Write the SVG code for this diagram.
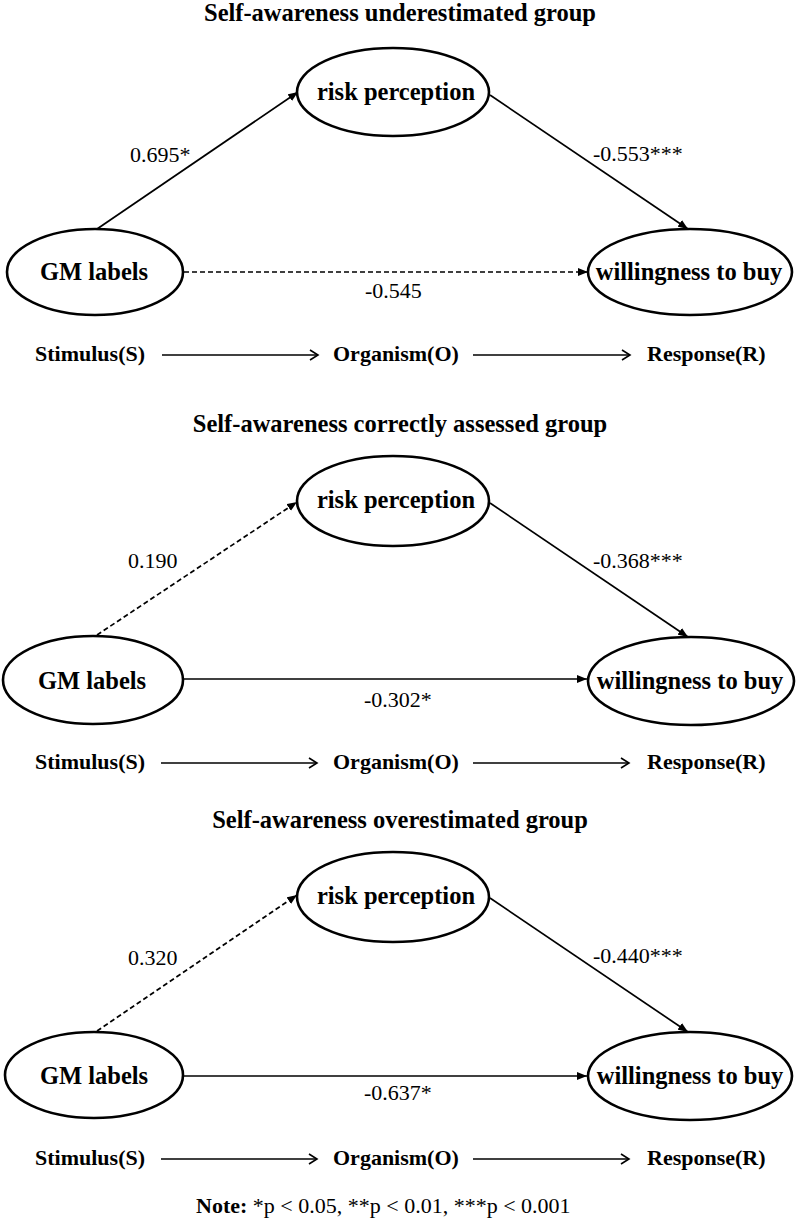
<svg xmlns="http://www.w3.org/2000/svg" width="800" height="1227" viewBox="0 0 800 1227">
<style>
.bg{fill:#fff}
.node{fill:#fff;stroke:#000;stroke-width:2.6}
.lbl{font-family:"Liberation Serif","Times New Roman",serif;font-weight:bold;font-size:24.5px;fill:#000;text-anchor:middle}
.title{font-family:"Liberation Serif","Times New Roman",serif;font-weight:bold;font-size:24.5px;fill:#000;text-anchor:middle}
.coef{font-family:"Liberation Serif","Times New Roman",serif;font-size:22px;fill:#000}
.sor{font-family:"Liberation Serif","Times New Roman",serif;font-weight:bold;font-size:22px;fill:#000}
.note{font-family:"Liberation Serif","Times New Roman",serif;font-size:22px;fill:#000}
.edge{stroke:#000;stroke-width:1.7;fill:none;marker-end:url(#ah)}
.dash{stroke-dasharray:5 3}
.flow{stroke:#000;stroke-width:1.7;fill:none;marker-end:url(#oa)}
</style>
<defs>
<marker id="ah" markerUnits="userSpaceOnUse" markerWidth="11" markerHeight="9" refX="10" refY="4.5" orient="auto"><path d="M0,0.5 L10,4.5 L0,8.5 z" fill="#000"/></marker>
<marker id="oa" markerUnits="userSpaceOnUse" markerWidth="14" markerHeight="14" refX="12" refY="7" orient="auto"><path d="M4,2 L12,7 L4,12" fill="none" stroke="#000" stroke-width="1.6"/></marker>
</defs>
<rect class="bg" x="0" y="0" width="800" height="1227"/>

<!-- Panel 1 -->
<g id="panel1">
<text class="title" x="400" y="21">Self-awareness underestimated group</text>
<g id="p1-connectors">
<line class="edge" x1="97" y1="229" x2="298" y2="92"/>
<line class="edge" x1="490" y1="95" x2="688" y2="229"/>
<line class="edge dash" x1="184" y1="272" x2="588" y2="272"/>
<line class="flow" x1="162" y1="355" x2="318" y2="355"/>
<line class="flow" x1="473" y1="355" x2="630" y2="355"/>
<text class="coef" x="130" y="162">0.695*</text>
<text class="coef" x="593" y="161">-0.553***</text>
<text class="coef" x="365" y="298">-0.545</text>
</g>
<g id="p1-risk"><ellipse class="node" cx="393" cy="92" rx="96" ry="44"/><text class="lbl" x="396" y="100">risk perception</text></g>
<g id="p1-gm"><ellipse class="node" cx="95" cy="272" rx="88" ry="43"/><text class="lbl" x="94" y="280">GM labels</text></g>
<g id="p1-wtb"><ellipse class="node" cx="690" cy="272" rx="102" ry="43"/><text class="lbl" x="689" y="280">willingness to buy</text></g>
<g id="p1-sor">
<text class="sor" x="35" y="361">Stimulus(S)</text>
<text class="sor" x="333" y="361">Organism(O)</text>
<text class="sor" x="647" y="361">Response(R)</text>
</g>
</g>

<!-- Panel 2 -->
<g id="panel2">
<text class="title" x="400" y="432">Self-awareness correctly assessed group</text>
<g id="p2-connectors">
<line class="edge dash" x1="97" y1="635" x2="297" y2="502"/>
<line class="edge" x1="490" y1="503" x2="688" y2="637"/>
<line class="edge" x1="183" y1="679" x2="587" y2="679"/>
<line class="flow" x1="161" y1="763" x2="317" y2="763"/>
<line class="flow" x1="473" y1="763" x2="629" y2="763"/>
<text class="coef" x="128" y="568">0.190</text>
<text class="coef" x="593" y="568">-0.368***</text>
<text class="coef" x="364" y="707">-0.302*</text>
</g>
<g id="p2-risk"><ellipse class="node" cx="393" cy="501" rx="96" ry="45"/><text class="lbl" x="396" y="508">risk perception</text></g>
<g id="p2-gm"><ellipse class="node" cx="93" cy="680" rx="90" ry="44"/><text class="lbl" x="92" y="689">GM labels</text></g>
<g id="p2-wtb"><ellipse class="node" cx="691" cy="681" rx="103" ry="44"/><text class="lbl" x="690" y="689">willingness to buy</text></g>
<g id="p2-sor">
<text class="sor" x="35" y="769">Stimulus(S)</text>
<text class="sor" x="333" y="769">Organism(O)</text>
<text class="sor" x="647" y="769">Response(R)</text>
</g>
</g>

<!-- Panel 3 -->
<g id="panel3">
<text class="title" x="400" y="828">Self-awareness overestimated group</text>
<g id="p3-connectors">
<line class="edge dash" x1="97" y1="1031" x2="297" y2="895"/>
<line class="edge" x1="490" y1="898" x2="688" y2="1032"/>
<line class="edge" x1="183" y1="1076" x2="587" y2="1076"/>
<line class="flow" x1="161" y1="1159" x2="317" y2="1159"/>
<line class="flow" x1="473" y1="1159" x2="629" y2="1159"/>
<text class="coef" x="128" y="965">0.320</text>
<text class="coef" x="593" y="963">-0.440***</text>
<text class="coef" x="364" y="1100">-0.637*</text>
</g>
<g id="p3-risk"><ellipse class="node" cx="393" cy="897" rx="96" ry="45"/><text class="lbl" x="396" y="904">risk perception</text></g>
<g id="p3-gm"><ellipse class="node" cx="94" cy="1075" rx="89" ry="43"/><text class="lbl" x="94" y="1084">GM labels</text></g>
<g id="p3-wtb"><ellipse class="node" cx="690" cy="1076" rx="102" ry="44"/><text class="lbl" x="690" y="1084">willingness to buy</text></g>
<g id="p3-sor">
<text class="sor" x="35" y="1165">Stimulus(S)</text>
<text class="sor" x="333" y="1165">Organism(O)</text>
<text class="sor" x="647" y="1165">Response(R)</text>
</g>
</g>

<text class="note" x="196" y="1213"><tspan font-weight="bold">Note:</tspan> *p &lt; 0.05, **p &lt; 0.01, ***p &lt; 0.001</text>
</svg>
